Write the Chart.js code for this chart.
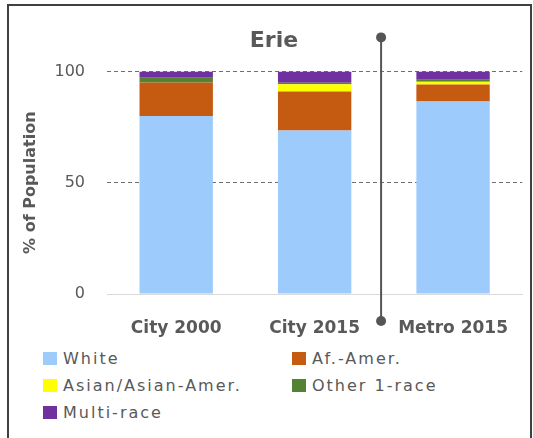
<!DOCTYPE html>
<html>
<head>
<meta charset="utf-8">
<script src="https://cdn.jsdelivr.net/npm/chart.js@4"></script>
<style>
    body { margin: 0; background: #fff; }
    #wrap { position: relative; width: 533px; height: 438px; overflow: hidden; }
    #frame { position: absolute; left: 7px; top: 4px; width: 521px; height: 460px; border: 2px solid #404040; }
    #canvas-box { position: absolute; left: 0; top: 0; width: 533px; height: 340px; }
    #legend {
        position: absolute; left: 43px; top: 345px;
        display: grid; grid-template-columns: 249px auto; grid-auto-rows: 27px;
        font-family: "DejaVu Sans", sans-serif; font-size: 16px; letter-spacing: 2px; color: #595959;
    }
    #legend div { display: flex; align-items: center; }
    #legend span.box { width: 14px; height: 13px; margin-right: 6px; display: inline-block; }
</style>
</head>
<body>
<div id="wrap">
    <div id="frame"></div>
    <div id="canvas-box"><canvas id="canvas"></canvas></div>
    <div id="legend"></div>
</div>
<script>
"use strict"

/* Data */
let categories = ["City 2000", "City 2015", "Metro 2015"];
let white = [80.0, 73.5, 86.5];
let afAmer = [15.0, 17.5, 7.6];
let asian = [0, 3.2, 1.3];
let other1 = [2.2, 0.7, 0.8];
let multi = [2.8, 5.1, 3.8];
let yTicks = [0, 50, 100];

/* Colors */
let lightBlue = "#9dcbfc";
let rust = "#c55a11";
let yellow = "#ffff00";
let green = "#548235";
let purple = "#7030a0";
let textGray = "#595959";
let lineGray = "#555555";

let separatorAt = 1.48;

const separator = {
    id: "separator",
    afterDraw(chart) {
        const ctx = chart.ctx;
        const x = chart.scales.x.getPixelForValue(separatorAt);
        const top = chart.chartArea.top - 34;
        const bottom = chart.chartArea.bottom + 27;
        ctx.save();
        ctx.strokeStyle = lineGray;
        ctx.fillStyle = lineGray;
        ctx.lineWidth = 2;
        ctx.beginPath();
        ctx.moveTo(x, top);
        ctx.lineTo(x, bottom);
        ctx.stroke();
        [top, bottom].forEach(y => {
            ctx.beginPath();
            ctx.arc(x, y, 5, 0, Math.PI * 2);
            ctx.fill();
        });
        ctx.restore();
    }
};

function createChart() {
    const canvas = document.getElementById("canvas").getContext("2d");
    const myChart = new Chart(canvas, {
        type: "bar",
        data: {
            labels: categories,
            datasets: [
                { label: "White", data: white, backgroundColor: lightBlue },
                { label: "Af.-Amer.", data: afAmer, backgroundColor: rust },
                { label: "Asian/Asian-Amer.", data: asian, backgroundColor: yellow },
                { label: "Other 1-race", data: other1, backgroundColor: green },
                { label: "Multi-race", data: multi, backgroundColor: purple },
            ]
        },
        options: {
            maintainAspectRatio: false,
            animation: false,
            datasets: {
                bar: {
                    categoryPercentage: 1,
                    barPercentage: 0.53,
                    borderWidth: 0
                }
            },
            layout: {
                padding: { left: 21, right: 6, top: 0, bottom: 2 }
            },
            scales: {
                x: {
                    stacked: true,
                    afterFit: axis => { axis.height = 44; },
                    grid: {
                        display: false,
                        drawTicks: false
                    },
                    border: { color: "#d9d9d9", width: 1 },
                    ticks: {
                        padding: 24,
                        color: textGray,
                        font: { family: "DejaVu Sans", size: 17, weight: "bold" }
                    }
                },
                y: {
                    stacked: true,
                    min: 0,
                    max: 100,
                    afterFit: axis => { axis.width = 86; },
                    afterBuildTicks: axis => {
                        axis.ticks = yTicks.map(v => ({ value: v }));
                    },
                    grid: {
                        color: ctx => ctx.tick.value === 0 ? "rgba(0,0,0,0)" : "#6f6f6f",
                        drawTicks: false
                    },
                    border: { display: false, dash: [4, 3] },
                    ticks: {
                        padding: 22,
                        color: textGray,
                        font: { family: "DejaVu Sans", size: 16 }
                    },
                    title: {
                        display: true,
                        text: "% of Population",
                        color: textGray,
                        padding: { top: 0, bottom: 14 },
                        font: { family: "DejaVu Sans", size: 16, weight: "bold" }
                    }
                }
            },
            plugins: {
                legend: { display: false },
                tooltip: { enabled: false },
                title: {
                    display: true,
                    text: "Erie",
                    color: textGray,
                    padding: { top: 28, bottom: 17 },
                    font: { family: "DejaVu Sans", size: 22, weight: "bold" }
                }
            }
        },
        plugins: [separator]
    });

    let legend = document.getElementById("legend");
    myChart.data.datasets.forEach(ds => {
        let item = document.createElement("div");
        let box = document.createElement("span");
        box.className = "box";
        box.style.background = ds.backgroundColor;
        item.appendChild(box);
        item.appendChild(document.createTextNode(ds.label));
        legend.appendChild(item);
    });
}

createChart();
</script>
</body>
</html>
